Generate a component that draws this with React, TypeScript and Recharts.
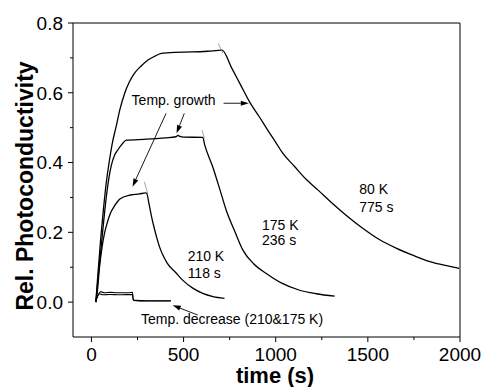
import React from 'react';
import { LineChart, Line, XAxis, YAxis, ReferenceLine, ReferenceDot } from 'recharts';

const FONT = '"Liberation Sans", Arial, Helvetica, sans-serif';

// 80 K curve (time s, rel. photoconductivity)
const t80 = [24, 35, 50, 65, 80, 98, 115, 134, 155, 180, 205, 234, 270, 307, 345, 379, 450, 550, 630, 709, 760, 810, 858, 910, 960, 1000, 1039, 1100, 1165, 1230, 1293, 1380, 1474, 1560, 1656, 1750, 1837, 1920, 1995];
const v80 = [0, 0.08, 0.18, 0.265, 0.34, 0.407, 0.46, 0.503, 0.553, 0.598, 0.63, 0.656, 0.677, 0.694, 0.705, 0.713, 0.716, 0.717, 0.719, 0.722, 0.672, 0.622, 0.574, 0.532, 0.49, 0.458, 0.426, 0.39, 0.352, 0.321, 0.29, 0.25, 0.211, 0.18, 0.154, 0.133, 0.116, 0.105, 0.097];

// 175 K curve
const t175 = [24, 40, 55, 70, 85, 107, 125, 143, 165, 189, 300, 400, 459, 470, 480, 500, 604, 615, 658, 698, 731, 780, 822, 880, 949, 1030, 1130, 1220, 1320];
const v175 = [0, 0.09, 0.17, 0.25, 0.32, 0.39, 0.42, 0.436, 0.452, 0.464, 0.467, 0.471, 0.474, 0.478, 0.475, 0.473, 0.472, 0.45, 0.388, 0.321, 0.264, 0.2, 0.149, 0.11, 0.082, 0.055, 0.034, 0.024, 0.017];

// 210 K curve
const t210 = [24, 31, 44, 58, 70, 85, 103, 122, 140, 158, 212, 260, 294, 300, 312, 325, 339, 357, 376, 395, 412, 457, 495, 550, 604, 660, 722];
const v210 = [0, 0.025, 0.1, 0.159, 0.195, 0.226, 0.255, 0.273, 0.287, 0.297, 0.307, 0.31, 0.313, 0.312, 0.283, 0.248, 0.216, 0.18, 0.149, 0.127, 0.111, 0.085, 0.063, 0.04, 0.025, 0.016, 0.011];

// Temp. decrease curves (210 & 175 K)
const tDecA = [24, 38, 51, 70, 100, 142, 200, 223, 226, 240, 300, 432];
const vDecA = [0.006, 0.022, 0.03, 0.027, 0.028, 0.027, 0.027, 0.028, 0.008, 0.005, 0.004, 0.004];
const tDecB = [24, 45, 60, 100, 150, 223, 228, 300, 430];
const vDecB = [0.003, 0.024, 0.021, 0.022, 0.021, 0.022, 0.005, 0.003, 0.003];

const xTicks = [0, 250, 500, 750, 1000, 1250, 1500, 1750, 2000];
const yTicks = [0, 0.1, 0.2, 0.3, 0.4, 0.5, 0.6, 0.7, 0.8];

// annotations: arrows [t1, v1, t2, v2] (tail -> head)
const arrows = [
  [504, 0.541, 462, 0.484],
  [405, 0.541, 223, 0.331],
  [717, 0.57, 854, 0.57],
  [577, -0.037, 441, -0.009],
];
// short grey marks at start of decays
const marks = [
  [688, 0.742, 712, 0.714],
  [601, 0.493, 613, 0.469],
  [287, 0.345, 305, 0.312],
];
// text labels [t, v, text, anchor]
const notes: [number, number, string, string][] = [
  [446, 0.579, 'Temp. growth', 'middle'],
  [1453, 0.324, '80 K', 'start'],
  [1453, 0.273, '775 s', 'start'],
  [925, 0.221, '175 K', 'start'],
  [925, 0.178, '236 s', 'start'],
  [522, 0.132, '210 K', 'start'],
  [522, 0.084, '118 s', 'start'],
  [269, -0.049, 'Temp. decrease (210&175 K)', 'start'],
];

const pts = (t: number[], v: number[]) => t.map((x, i) => ({ t: x, v: v[i] }));

const XTick = (props: any) => {
  const { x, y, payload } = props;
  const major = payload.value % 500 === 0;
  const len = major ? 5 : 3;
  return (
    <g>
      <line x1={x} y1={y} x2={x} y2={y + len} stroke="#000" strokeWidth={1} />
      {major && (
        <text x={x} y={y + 24} textAnchor="middle" fontSize={19} fill="#000" fontFamily={FONT}>
          {payload.value}
        </text>
      )}
    </g>
  );
};

const YTick = (props: any) => {
  const { x, y, payload } = props;
  const major = Math.round(payload.value * 10) % 2 === 0;
  const len = major ? 5 : 3;
  return (
    <g>
      <line x1={x} y1={y} x2={x - len} y2={y} stroke="#000" strokeWidth={1} />
      {major && (
        <text x={x - 10} y={y} dy="0.36em" textAnchor="end" fontSize={19} fill="#000" fontFamily={FONT}>
          {payload.value.toFixed(1)}
        </text>
      )}
    </g>
  );
};

const XTitle = () => (
  <text x={275} y={383} textAnchor="middle" fontSize={22} fontWeight="bold" fill="#000" fontFamily={FONT}>
    time (s)
  </text>
);
const YTitle = () => (
  <text x={0} y={0} transform="translate(33,186) rotate(-90)" textAnchor="middle" fontSize={23} fontWeight="bold" fill="#000" fontFamily={FONT}>
    Rel. Photoconductivity
  </text>
);

const arrowShape = (p: any) => {
  const { x1, y1, x2, y2 } = p;
  const dx = x2 - x1, dy = y2 - y1;
  const L = Math.sqrt(dx * dx + dy * dy) || 1;
  const ux = dx / L, uy = dy / L;
  const hl = 8, hw = 2.6;
  const bx = x2 - ux * hl, by = y2 - uy * hl;
  return (
    <g>
      <line x1={x1} y1={y1} x2={bx} y2={by} stroke="#000" strokeWidth={0.9} />
      <polygon points={`${x2},${y2} ${bx - uy * hw},${by + ux * hw} ${bx + uy * hw},${by - ux * hw}`} fill="#000" />
    </g>
  );
};

const markShape = (p: any) => (
  <line x1={p.x1} y1={p.y1} x2={p.x2} y2={p.y2} stroke="#8a8a8a" strokeWidth={0.8} />
);

const noteShape = (text: string, anchor: string) => (p: any) => (
  <text x={p.cx} y={p.cy} dy="0.36em" textAnchor={anchor as any} fontSize={14} fill="#000" fontFamily={FONT}>
    {text}
  </text>
);

export default function App() {
  const lineProps = { type: 'monotone' as const, dataKey: 'v', stroke: '#000', strokeWidth: 1.3, dot: false, isAnimationActive: false };
  return (
    <div style={{ position: 'absolute', left: 0, top: 0, width: 481, height: 387, background: '#fff' }}>
      <LineChart width={481} height={387} margin={{ top: 23, right: 21, bottom: 20, left: 13 }}>
        <XAxis
          type="number"
          dataKey="t"
          domain={[-100, 2000]}
          ticks={xTicks}
          interval={0}
          tickSize={0}
          tickMargin={0}
          tickLine={false}
          tick={<XTick />}
          height={30}
          stroke="#000"
          allowDataOverflow
          label={<XTitle />}
        />
        <YAxis
          type="number"
          domain={[-0.1, 0.8]}
          ticks={yTicks}
          interval={0}
          tickSize={0}
          tickMargin={0}
          tickLine={false}
          tick={<YTick />}
          width={60}
          stroke="#000"
          allowDataOverflow
          label={<YTitle />}
        />
        <ReferenceLine y={0.8} stroke="#000" strokeWidth={1} ifOverflow="visible" />
        <ReferenceLine x={2000} stroke="#000" strokeWidth={1} ifOverflow="visible" />
        <Line {...lineProps} data={pts(t80, v80)} />
        <Line {...lineProps} data={pts(t175, v175)} />
        <Line {...lineProps} data={pts(t210, v210)} />
        <Line {...lineProps} data={pts(tDecA, vDecA)} strokeWidth={1.1} />
        <Line {...lineProps} data={pts(tDecB, vDecB)} strokeWidth={1.1} />
        {marks.map((m, i) => (
          <ReferenceLine key={'m' + i} segment={[{ x: m[0], y: m[1] }, { x: m[2], y: m[3] }]} shape={markShape} ifOverflow="visible" />
        ))}
        {arrows.map((a, i) => (
          <ReferenceLine key={'a' + i} segment={[{ x: a[0], y: a[1] }, { x: a[2], y: a[3] }]} shape={arrowShape} ifOverflow="visible" />
        ))}
        {notes.map((n, i) => (
          <ReferenceDot key={'n' + i} x={n[0]} y={n[1]} r={1} shape={noteShape(n[2], n[3])} ifOverflow="visible" />
        ))}
      </LineChart>
    </div>
  );
}
